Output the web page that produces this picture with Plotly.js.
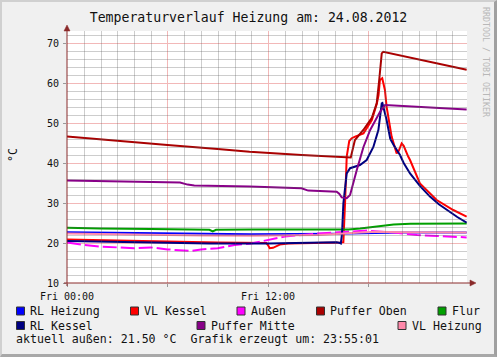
<!DOCTYPE html>
<html>
<head>
<meta charset="utf-8">
<script src="https://cdn.plot.ly/plotly-3.0.1.min.js"></script>
<style>
  html, body { margin: 0; padding: 0; background: #f0f0f0; }
  #wrap { position: relative; width: 497px; height: 357px; }
  #chart { width: 497px; height: 357px; }
  #frame { position: absolute; left: 0; top: 0; width: 492px; height: 352px; pointer-events: none;
           border-top: 2px solid #d0d0d0; border-left: 2px solid #d0d0d0;
           border-right: 3px solid #a0a0a0; border-bottom: 3px solid #a8a8a8; }
</style>
</head>
<body>
<div id="wrap"><div id="chart"></div><div id="frame"></div></div>
<script>
// ---------------- data (hours since Fri 00:00, °C) ----------------
const chartTitle = 'Temperaturverlauf Heizung am: 24.08.2012';
const xTickVals = [0, 6, 12, 18];
const xTickText = ['Fri 00:00', '', 'Fri 12:00', ''];

const seriesNames = ['RL Heizung', 'VL Kessel', 'Außen', 'Puffer Oben', 'Flur', 'RL Kessel', 'Puffer Mitte', 'VL Heizung'];

const tRLHeizung = [0, 4, 8, 11, 16, 17, 18, 20, 23.86];
const vRLHeizung = [22.7, 22.5, 22.3, 22.2, 22.3, 22.4, 22.5, 22.6, 22.6];

const tVLKessel = [0, 3, 6, 9, 11.9, 12.0, 12.1, 12.3, 12.7, 13.2, 16.3, 16.5, 16.6, 16.7, 16.85, 17.0, 17.2, 17.5, 17.7, 18.2, 18.5, 18.6, 18.68, 18.82, 18.9, 18.98, 19.08, 19.38, 19.68, 19.8, 19.98, 20.1, 20.37, 20.48, 21.07, 22.07, 23.06, 23.86];
const vVLKessel = [20.9, 20.6, 20.3, 20.1, 20.0, 19.5, 18.7, 18.8, 19.6, 19.9, 20.1, 20.2, 30.0, 41.6, 45.5, 46.2, 46.6, 47.0, 47.4, 50.75, 54.9, 57.0, 60.75, 61.2, 59.5, 58.25, 54.1, 46.6, 42.4, 43.0, 44.9, 44.3, 41.6, 40.75, 34.9, 30.75, 28.25, 26.6];

const tAussen = [0, 1, 2, 4, 5, 6, 7.4, 8, 9, 10, 11, 11.5, 13, 15, 16.5, 17.9, 19.5, 20.9, 22.1, 23.86];
const vAussen = [20.1, 19.5, 19.1, 18.7, 18.9, 18.4, 18.0, 18.4, 18.7, 19.5, 19.9, 20.3, 21.6, 22.4, 22.8, 23.1, 22.6, 22.0, 21.75, 21.4];

const tPufferOben = [0, 3, 6, 9, 10.9, 14, 16.94, 17.19, 17.69, 18.19, 18.49, 18.64, 18.79, 18.88, 20.3, 21.7, 22.8, 23.86];
const vPufferOben = [46.6, 45.5, 44.5, 43.5, 42.8, 42.0, 41.4, 45.75, 48.25, 51.2, 54.9, 60.75, 67.4, 67.8, 66.5, 65.2, 64.1, 63.3];

const tFlur = [0, 2, 5, 8.5, 8.7, 8.9, 11, 16.8, 17.5, 18.5, 19.5, 20.5, 23.86];
const vFlur = [23.8, 23.6, 23.5, 23.3, 22.9, 23.3, 23.4, 23.4, 23.6, 24.1, 24.6, 24.8, 24.9];

const tRLKessel = [0, 4, 8.5, 12, 16.1, 16.3, 16.35, 16.42, 16.5, 16.7, 16.9, 17.49, 17.89, 18.29, 18.59, 18.79, 18.83, 19.08, 19.3, 19.5, 19.88, 20.1, 20.48, 21.08, 21.67, 22.2, 22.67, 23.3, 23.86];
const vRLKessel = [20.5, 20.2, 19.9, 19.9, 20.2, 20.0, 19.9, 22.4, 29.9, 37.4, 38.7, 39.5, 40.75, 44.0, 48.25, 54.9, 55.0, 50.75, 46.0, 44.5, 42.0, 40.0, 37.4, 34.2, 31.6, 29.7, 28.25, 26.5, 25.1];

const tPufferMitte = [0, 3, 6, 6.75, 7.2, 7.6, 10.9, 14.0, 14.4, 16.1, 16.25, 16.4, 16.7, 16.9, 17.3, 17.7, 18.1, 18.5, 18.69, 18.99, 19.5, 21, 22.5, 23.86];
const vPufferMitte = [35.6, 35.4, 35.2, 35.1, 34.6, 34.4, 34.1, 33.7, 33.1, 32.8, 32.3, 31.4, 31.2, 32.0, 38.25, 44.0, 48.25, 51.3, 52.8, 54.5, 54.4, 54.1, 53.8, 53.4];

const tVLHeizung = [0, 4, 8, 11, 14, 15, 17.5, 18.5, 20, 23.86];
const vVLHeizung = [22.4, 22.1, 21.9, 21.8, 21.9, 22.0, 22.6, 22.8, 22.7, 22.6];

const currentOutside = '21.50';
const generatedAt = '23:55:01';

// ---------------- styling / layout ----------------
const seriesColors = ['#0000ff', '#ff0000', '#ff00ff', '#aa0000', '#00a000', '#000080', '#880088', '#ff88aa'];
const seriesT = [tRLHeizung, tVLKessel, tAussen, tPufferOben, tFlur, tRLKessel, tPufferMitte, tVLHeizung];
const seriesV = [vRLHeizung, vVLKessel, vAussen, vPufferOben, vFlur, vRLKessel, vPufferMitte, vVLHeizung];

const W = 497, H = 357, L = 67, T = 31, PW = 400, PH = 252;
const PXH = 16.75, PXV = 4;           // pixels per hour / per °C
const px = x => (x - L) / PW;
const py = y => (T + PH - y) / PH;
const mono = 'DejaVu Sans Mono, Liberation Mono, monospace';
const minorGridColor = 'rgba(90,90,90,0.3)';
const majorGridColor = '#f2b8b8';

const traces = seriesNames.map((name, i) => ({
  type: 'scatter', mode: 'lines', name: name,
  x: seriesT[i], y: seriesV[i],
  line: { color: seriesColors[i], width: 2, dash: i === 2 ? '14px,4px' : 'solid' },
  showlegend: false, hoverinfo: 'skip'
}));

const shapes = [];
const annotations = [];

// minor grid (hourly / every 2 °C), snapped to pixel centres; major grid comes from the axes
for (let h = 1; h <= 23; h++) {
  if (h % 6 === 0) continue;
  const xp = Math.round(L + h * PXH) + 0.5;
  shapes.push({ type: 'line', layer: 'above', xref: 'paper', yref: 'paper', x0: px(xp), x1: px(xp), y0: 0, y1: 1, line: { color: minorGridColor, width: 1 } });
}
for (let v = 12; v <= 72; v += 2) {
  if (v % 10 === 0) continue;
  const yp = Math.round(T + PH - (v - 10) * PXV) + 0.5;
  shapes.push({ type: 'line', layer: 'above', xref: 'paper', yref: 'paper', x0: 0, x1: 1, y0: py(yp), y1: py(yp), line: { color: minorGridColor, width: 1 } });
}

const axisColor = '#8a2a2a';
// axis lines + arrows
shapes.push({ type: 'line', xref: 'paper', yref: 'paper', x0: px(67), x1: px(67), y0: py(286), y1: py(29), line: { color: axisColor, width: 1 } });
shapes.push({ type: 'line', xref: 'paper', yref: 'paper', x0: px(64), x1: px(471), y0: py(283), y1: py(283), line: { color: axisColor, width: 1 } });
shapes.push({ type: 'path', xref: 'paper', yref: 'paper', path: `M ${px(64)} ${py(31)} L ${px(70)} ${py(31)} L ${px(67)} ${py(25)} Z`, fillcolor: axisColor, line: { color: axisColor, width: 0.5 } });
shapes.push({ type: 'path', xref: 'paper', yref: 'paper', path: `M ${px(470)} ${py(280)} L ${px(470)} ${py(286)} L ${px(476)} ${py(283)} Z`, fillcolor: axisColor, line: { color: axisColor, width: 0.5 } });

// legend layout (pixel positions of swatches)
const legendPos = [[16, 311], [130, 311], [236.5, 311], [316, 311], [437.5, 311], [16, 325.5], [196.5, 325.5], [397.5, 325.5]];
seriesNames.forEach((name, i) => {
  const [lx, ly] = legendPos[i];
  shapes.push({ type: 'rect', xref: 'paper', yref: 'paper', x0: px(lx + 0.5), x1: px(lx + 8.5), y0: py(ly - 4), y1: py(ly + 4),
    fillcolor: seriesColors[i], line: { color: '#333333', width: 1 } });
  annotations.push({ xref: 'paper', yref: 'paper', x: px(lx + 12), y: py(ly), xanchor: 'left', yanchor: 'middle',
    text: name, showarrow: false, font: { family: mono, size: 11.6, color: '#111111' } });
});
annotations.push({ xref: 'paper', yref: 'paper', x: px(14), y: py(339), xanchor: 'left', yanchor: 'middle',
  text: 'aktuell außen: ' + currentOutside + ' °C  Grafik erzeugt um: ' + generatedAt, showarrow: false,
  font: { family: mono, size: 11.6, color: '#111111' } });
// y unit
annotations.push({ xref: 'paper', yref: 'paper', x: px(13), y: py(155), xanchor: 'center', yanchor: 'middle',
  text: '°C', textangle: -90, showarrow: false, font: { family: mono, size: 11.6, color: '#111111' } });
// watermark
annotations.push({ xref: 'paper', yref: 'paper', x: px(486), y: py(62), xanchor: 'center', yanchor: 'middle',
  text: 'RRDTOOL / TOBI OETIKER', textangle: 90, showarrow: false, font: { family: mono, size: 8.3, color: '#b8b8b8' } });

const layout = {
  width: W, height: H,
  margin: { l: L, r: W - L - PW, t: T, b: H - T - PH, pad: 0 },
  paper_bgcolor: '#f0f0f0', plot_bgcolor: '#ffffff',
  title: { text: chartTitle, x: 0.5, xref: 'container', xanchor: 'center', y: 1 - 17 / H, yref: 'container', yanchor: 'middle',
           font: { family: mono, size: 13.2, color: '#111111' } },
  xaxis: {
    range: [0, PW / PXH], tickmode: 'array', tickvals: xTickVals, ticktext: xTickText,
    showgrid: true, gridcolor: majorGridColor, gridwidth: 1, zeroline: false, showline: false,
    ticks: 'outside', ticklen: 3, tickcolor: '#999999',
    tickfont: { family: mono, size: 10, color: '#111111' }, ticklabelstandoff: 1,
    fixedrange: true
  },
  yaxis: {
    range: [10, 73], tickmode: 'linear', tick0: 10, dtick: 10,
    showgrid: true, gridcolor: majorGridColor, gridwidth: 1, zeroline: false, showline: false,
    ticks: 'outside', ticklen: 3, tickcolor: '#999999',
    tickfont: { family: mono, size: 10, color: '#111111' }, ticklabelstandoff: 2,
    fixedrange: true
  },
  shapes: shapes, annotations: annotations,
  showlegend: false
};

Plotly.newPlot('chart', traces, layout, { displayModeBar: false, staticPlot: true });
</script>
</body>
</html>
